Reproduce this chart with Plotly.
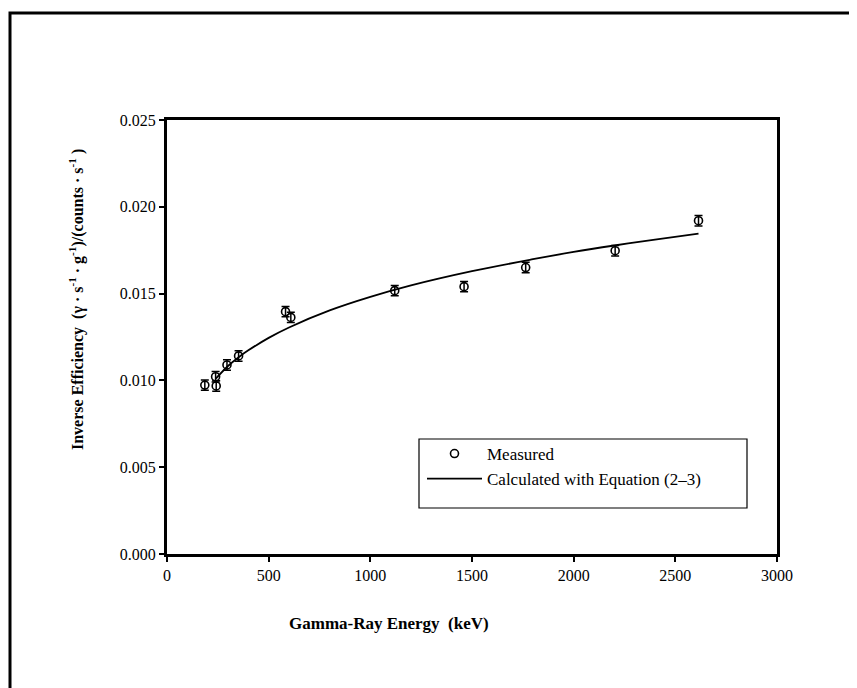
import plotly.graph_objects as go

# Measured data points
energy_meas = [186, 239, 242, 295, 352, 583, 609, 1120, 1461, 1764, 2204, 2614]
ineff_meas = [0.00973, 0.01021, 0.00968, 0.01089, 0.01141, 0.01396, 0.01363,
              0.01517, 0.01540, 0.01650, 0.01747, 0.01920]
ineff_err = [0.0003] * len(energy_meas)

# Calculated curve
energy_calc = [240, 300, 354, 400, 500, 600, 800, 1000, 1200, 1500, 1800, 2000, 2200, 2400, 2614]
ineff_calc = [0.01010, 0.01083, 0.01135, 0.01173, 0.01245, 0.01305, 0.01403, 0.01481,
              0.01547, 0.01629, 0.01698, 0.01740, 0.01777, 0.01811, 0.01846]

x_ticks = [0, 500, 1000, 1500, 2000, 2500, 3000]
y_ticks = [0.000, 0.005, 0.010, 0.015, 0.020, 0.025]

# page body has an 8px margin; work in screen pixels and convert
OFF = 8
W, H = 857 - OFF, 688 - OFF
L, R, T, B = 167 - OFF, 777 - OFF, 120 - OFF, 554 - OFF


def px(x):
    return (x - OFF - L) / (R - L)


def py(y):
    return (B - (y - OFF)) / (B - T)


FONT = "Liberation Serif, Times New Roman, serif"

fig = go.Figure()
fig.add_trace(go.Scatter(
    x=energy_meas, y=ineff_meas, mode="markers", name="Measured",
    marker=dict(symbol="circle-open", size=8, color="black", line=dict(width=1.6, color="black")),
    error_y=dict(type="data", array=ineff_err, visible=True, color="black", thickness=1.5, width=4),
))
fig.add_trace(go.Scatter(
    x=energy_calc, y=ineff_calc, mode="lines", name="Calculated with Equation (2\u20133)",
    line=dict(color="black", width=1.8, shape="spline"),
))

fig.update_layout(
    width=W, height=H,
    margin=dict(l=L, r=W - R, t=T, b=H - B),
    paper_bgcolor="white", plot_bgcolor="white",
    font=dict(family=FONT, size=16, color="black"),
    showlegend=True,
    legend=dict(x=px(422), y=py(436), xanchor="left", yanchor="top",
                bgcolor="rgba(0,0,0,0)", borderwidth=0,
                font=dict(family=FONT, size=17, color="black"),
                itemwidth=55, tracegroupgap=0),
    xaxis=dict(range=[0, 3000], tickvals=x_ticks, ticktext=[str(v) for v in x_ticks],
               showline=True, linewidth=3, linecolor="black", mirror=True,
               ticks="outside", ticklen=5, tickwidth=1.5, tickcolor="black",
               showgrid=False, zeroline=False,
               tickfont=dict(family=FONT, size=16)),
    yaxis=dict(range=[0, 0.025], tickvals=y_ticks, ticktext=["%.3f" % v for v in y_ticks],
               showline=True, linewidth=3, linecolor="black", mirror=True,
               ticks="outside", ticklen=5, tickwidth=1.5, tickcolor="black",
               showgrid=False, zeroline=False,
               tickfont=dict(family=FONT, size=16)),
    shapes=[
        # outer frame
        dict(type="rect", xref="paper", yref="paper",
             x0=px(10), x1=px(880), y0=py(710), y1=py(13),
             line=dict(color="black", width=3), fillcolor="rgba(0,0,0,0)"),
        # legend box
        dict(type="rect", xref="paper", yref="paper",
             x0=px(419), x1=px(747), y0=py(508), y1=py(439),
             line=dict(color="black", width=1.2), fillcolor="rgba(0,0,0,0)"),
    ],
    annotations=[
        dict(text="<b>Gamma-Ray Energy  (keV)</b>", xref="paper", yref="paper",
             x=px(389), y=py(623), xanchor="center", yanchor="middle", showarrow=False,
             font=dict(family=FONT, size=17)),
        dict(text="<b>Inverse Efficiency  (\u03b3 \u00b7 s<sup>-1</sup> \u00b7 g<sup>-1</sup>)/(counts \u00b7 s<sup>-1</sup> )</b>",
             xref="paper", yref="paper", x=px(76), y=py(300), xanchor="center", yanchor="middle",
             textangle=-90, showarrow=False, font=dict(family=FONT, size=16)),
    ],
)

fig.write_html("out.html")
